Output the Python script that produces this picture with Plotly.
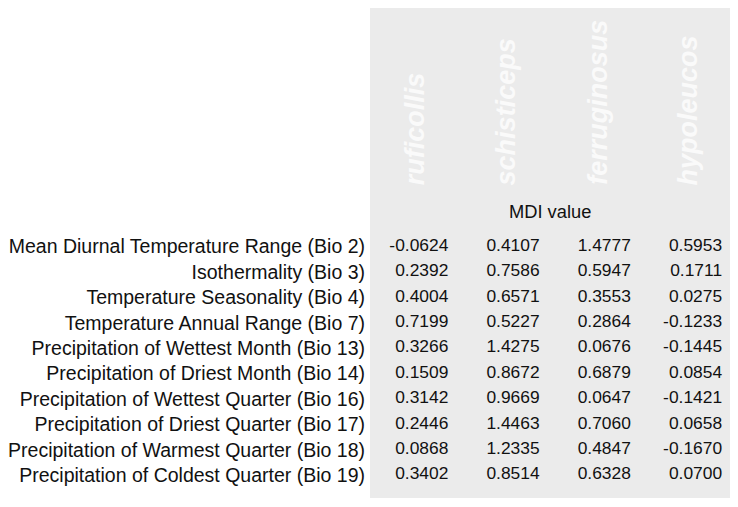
import plotly.graph_objects as go

variables = [
    "Mean Diurnal Temperature Range (Bio 2)",
    "Isothermality (Bio 3)",
    "Temperature Seasonality (Bio 4)",
    "Temperature Annual Range (Bio 7)",
    "Precipitation of Wettest Month (Bio 13)",
    "Precipitation of Driest Month (Bio 14)",
    "Precipitation of Wettest Quarter (Bio 16)",
    "Precipitation of Driest Quarter (Bio 17)",
    "Precipitation of Warmest Quarter (Bio 18)",
    "Precipitation of Coldest Quarter (Bio 19)",
]
species = ["ruficollis", "schisticeps", "ferruginosus", "hypoleucos"]
ruficollis = [-0.0624, 0.2392, 0.4004, 0.7199, 0.3266, 0.1509, 0.3142, 0.2446, 0.0868, 0.3402]
schisticeps = [0.4107, 0.7586, 0.6571, 0.5227, 1.4275, 0.8672, 0.9669, 1.4463, 1.2335, 0.8514]
ferruginosus = [1.4777, 0.5947, 0.3553, 0.2864, 0.0676, 0.6879, 0.0647, 0.7060, 0.4847, 0.6328]
hypoleucos = [0.5953, 0.1711, 0.0275, -0.1233, -0.1445, 0.0854, -0.1421, 0.0658, -0.1670, 0.0700]
subtitle = "MDI value"

columns = [ruficollis, schisticeps, ferruginosus, hypoleucos]
FONT = "Liberation Sans, Arial, Helvetica, sans-serif"

fig = go.Figure()
rows = list(range(len(variables)))
for ci, col in enumerate(columns):
    fig.add_trace(go.Scatter(
        x=[ci] * len(col), y=rows, mode="text",
        text=[f"{v:.4f}" for v in col],
        textposition="middle left",
        textfont=dict(family=FONT, size=17.4, color="#111111"),
        cliponaxis=False, showlegend=False, hoverinfo="skip",
    ))

for ci, name in enumerate(species):
    fig.add_annotation(
        x=ci - 0.37, y=-2.34, xref="x", yref="y",
        text=f"<b><i>{name}</i></b>", textangle=-90,
        showarrow=False, xanchor="center", yanchor="bottom",
        font=dict(family=FONT, size=27, color="#fafafa"),
    )

fig.add_annotation(
    x=0.4945, y=-1.36, xref="paper", yref="y", text=subtitle, showarrow=False,
    xanchor="center", yanchor="middle",
    font=dict(family=FONT, size=18.3, color="#111111"),
)

fig.update_layout(
    width=730, height=499,
    margin=dict(l=359, r=5, t=0, b=9),
    paper_bgcolor="white", plot_bgcolor="#ebebeb",
    xaxis=dict(range=[-0.8587, 3.1196], showgrid=False, zeroline=False,
               showticklabels=False, ticks="", fixedrange=True),
    yaxis=dict(range=[9.901, -9.390], showgrid=False, zeroline=False,
               tickmode="array", tickvals=rows, ticktext=variables,
               ticks="", ticklabelstandoff=4,
               tickfont=dict(family=FONT, size=19.5, color="#111111"),
               fixedrange=True),
)

fig.write_html("out.html")
